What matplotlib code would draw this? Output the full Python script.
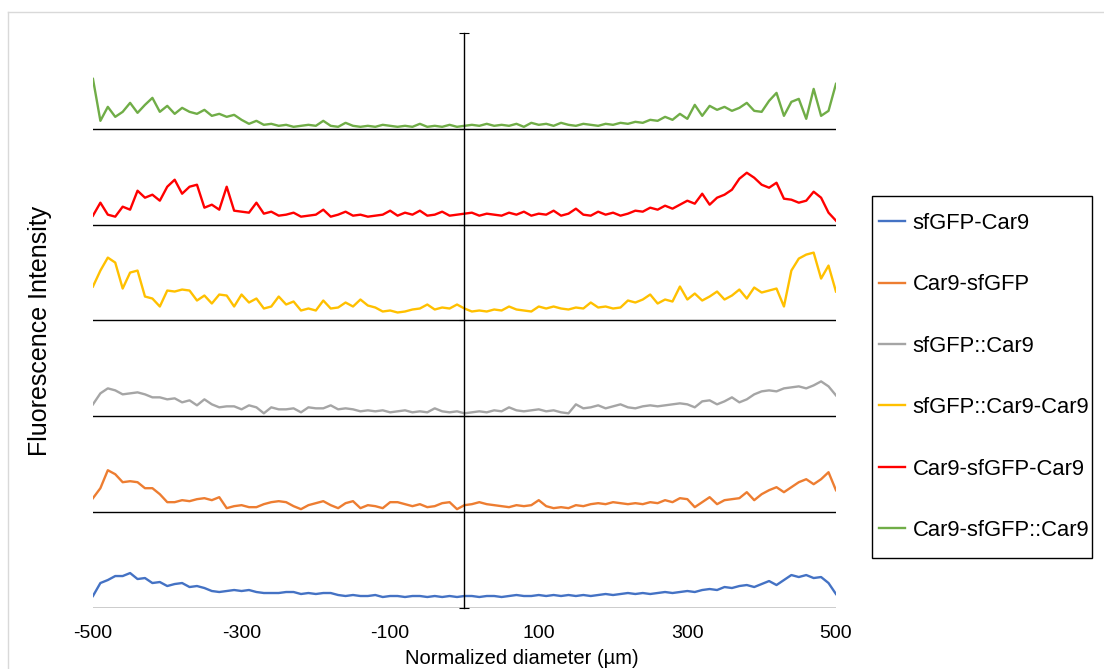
import numpy as np
import matplotlib
matplotlib.use("Agg")
import matplotlib.pyplot as plt
from matplotlib.patches import Rectangle

plt.rcParams['font.family'] = ['Liberation Sans', 'DejaVu Sans']

# position across the normalized diameter (µm), 10 µm steps
positions = np.arange(-500, 501, 10)

labels = ['sfGFP-Car9', 'Car9-sfGFP', 'sfGFP::Car9',
          'sfGFP::Car9-Car9', 'Car9-sfGFP-Car9', 'Car9-sfGFP::Car9']
colors = ['#4472C4', '#ED7D31', '#A5A5A5', '#FFC000', '#FF0000', '#70AD47']

# fluorescence profiles (a.u., each trace drawn on its own baseline)
sfgfp_car9 = [12, 25, 28, 32, 32, 35, 29, 30, 25, 26, 22, 24, 25, 21, 22, 20, 17, 16, 17, 18,
              17, 18, 16, 15, 15, 15, 16, 16, 14, 15, 14, 15, 15, 13, 12, 13, 12, 12, 13, 11,
              12, 12, 11, 12, 12, 11, 12, 11, 12, 11, 12, 12, 11, 12, 12, 11, 12, 13, 12, 12,
              13, 12, 13, 12, 13, 12, 13, 12, 13, 14, 13, 14, 15, 14, 15, 14, 15, 16, 15, 16,
              17, 16, 18, 19, 18, 21, 20, 22, 23, 21, 24, 27, 23, 28, 33, 31, 33, 30, 31, 25, 14]
car9_sfgfp = [14, 24, 42, 38, 30, 31, 30, 24, 24, 18, 10, 10, 12, 11, 13, 14, 12, 15, 4, 6,
              7, 5, 5, 8, 10, 11, 10, 6, 3, 7, 9, 11, 7, 4, 9, 11, 4, 7, 6, 4,
              10, 10, 8, 6, 8, 5, 6, 9, 10, 3, 7, 8, 10, 8, 7, 6, 5, 7, 6, 7,
              12, 6, 4, 5, 4, 7, 6, 8, 9, 8, 10, 9, 8, 9, 8, 10, 9, 12, 10, 14,
              13, 5, 10, 15, 8, 12, 13, 14, 20, 12, 18, 22, 25, 20, 25, 30, 33, 28, 33, 40, 22]
sfgfp_dc_car9 = [12, 23, 28, 26, 22, 23, 24, 22, 19, 19, 17, 18, 14, 16, 11, 17, 12, 9, 10, 10,
                 7, 11, 9, 3, 9, 7, 7, 8, 4, 9, 8, 8, 11, 7, 8, 7, 5, 6, 5, 6,
                 4, 5, 6, 4, 5, 4, 8, 5, 4, 5, 3, 4, 5, 4, 6, 5, 9, 6, 5, 6,
                 7, 5, 6, 4, 3, 12, 8, 9, 11, 8, 10, 12, 9, 8, 10, 11, 10, 11, 12, 13,
                 12, 9, 15, 16, 12, 15, 19, 14, 17, 22, 25, 26, 25, 28, 29, 30, 28, 31, 35, 30, 21]
sfgfp_dc_car9_car9 = [34, 50, 63, 58, 32, 48, 50, 24, 22, 14, 30, 29, 31, 30, 20, 25, 17, 26, 25, 14,
                      26, 18, 22, 12, 14, 24, 16, 19, 10, 12, 10, 20, 12, 13, 18, 14, 21, 15, 13, 9,
                      10, 8, 9, 11, 12, 16, 11, 13, 12, 16, 12, 9, 10, 9, 11, 10, 14, 11, 10, 9,
                      14, 12, 14, 12, 11, 13, 12, 18, 13, 14, 12, 13, 20, 18, 21, 26, 17, 21, 19, 34,
                      21, 27, 20, 24, 29, 21, 25, 31, 22, 33, 28, 30, 32, 14, 50, 62, 66, 68, 42, 55, 29]
car9_sfgfp_car9 = [9, 22, 10, 8, 18, 15, 34, 27, 30, 24, 38, 45, 31, 38, 40, 17, 20, 15, 38, 14,
                   13, 12, 22, 11, 13, 9, 10, 12, 8, 9, 10, 15, 8, 10, 13, 9, 10, 8, 9, 10,
                   14, 9, 12, 10, 14, 9, 10, 13, 9, 10, 11, 12, 9, 11, 10, 9, 12, 10, 13, 9,
                   11, 10, 14, 9, 11, 16, 10, 9, 13, 10, 12, 9, 11, 14, 13, 17, 15, 19, 16, 20,
                   24, 21, 31, 20, 27, 30, 35, 46, 52, 47, 40, 37, 42, 26, 25, 22, 24, 33, 27, 12, 4]
car9_sfgfp_dc_car9 = [50, 8, 22, 12, 17, 26, 16, 24, 31, 17, 23, 15, 21, 17, 15, 19, 13, 15, 12, 14,
                      9, 5, 8, 4, 5, 3, 4, 2, 3, 4, 3, 8, 3, 2, 6, 3, 2, 3, 2, 4,
                      3, 2, 3, 2, 5, 2, 3, 2, 4, 2, 3, 4, 3, 5, 3, 4, 3, 5, 2, 6,
                      4, 5, 3, 6, 4, 3, 5, 4, 3, 5, 4, 6, 5, 7, 6, 9, 8, 12, 9, 15,
                      10, 24, 13, 23, 19, 22, 18, 21, 26, 18, 17, 28, 36, 13, 27, 30, 10, 40, 13, 18, 45]

series = [sfgfp_car9, car9_sfgfp, sfgfp_dc_car9,
          sfgfp_dc_car9_car9, car9_sfgfp_car9, car9_sfgfp_dc_car9]
spacing = 96

fig = plt.figure(figsize=(11.04, 6.69), dpi=100)
ax = fig.add_axes([0.0842, 0.0912, 0.673, 0.8595])

for i, vals in enumerate(series):
    base = i * spacing
    ax.plot([-500, 500], [base, base], color='black', lw=1.0, zorder=1)
    ax.plot(positions, np.array(vals) + base, color=colors[i], lw=1.7,
            label=labels[i], zorder=2)

ax.set_xlim(-500, 500)
ax.set_ylim(0, 6 * spacing)

for s in ['top', 'right', 'bottom']:
    ax.spines[s].set_visible(False)
ax.spines['left'].set_position(('data', 0))
ax.spines['left'].set_linewidth(1.0)
ax.spines['left'].set_zorder(3)

ax.set_yticks([spacing * k for k in range(7)])
ax.tick_params(axis='y', direction='inout', length=7, labelleft=False)
ax.set_xticks([-500, -300, -100, 100, 300, 500])
ax.set_xticklabels(['-500', '-300', '-100', '100', '300', '500'])
ax.tick_params(axis='x', length=0, labelsize=14, pad=12)

fig.text(0.473, 0.0164, 'Normalized diameter (µm)', ha='center', va='center', fontsize=14.5)
fig.text(0.036, 0.505, 'Fluorescence Intensity', ha='center', va='center',
         rotation=90, fontsize=18)

handles, labs = ax.get_legend_handles_labels()
leg = fig.legend(handles, labs, loc='center left', bbox_to_anchor=(0.790, 0.4365),
                 frameon=False, fontsize=15.8,
                 labelspacing=1.84, handlelength=1.2, handletextpad=0.35,
                 borderpad=0.3, borderaxespad=0)

# legend box drawn by hand (tight on the right like the original)
fig.add_artist(Rectangle((872 / 1104, 1 - 558 / 669), 220 / 1104, 362 / 669,
                         transform=fig.transFigure, fill=False,
                         edgecolor='black', lw=1.0))

# light outer frame as in the exported figure
fig.add_artist(plt.Line2D([0.007, 0.007], [0, 0.982], color='#d9d9d9', lw=1))
fig.add_artist(plt.Line2D([0.007, 1.0], [0.982, 0.982], color='#d9d9d9', lw=1))

fig.savefig('out.png', dpi=100)
